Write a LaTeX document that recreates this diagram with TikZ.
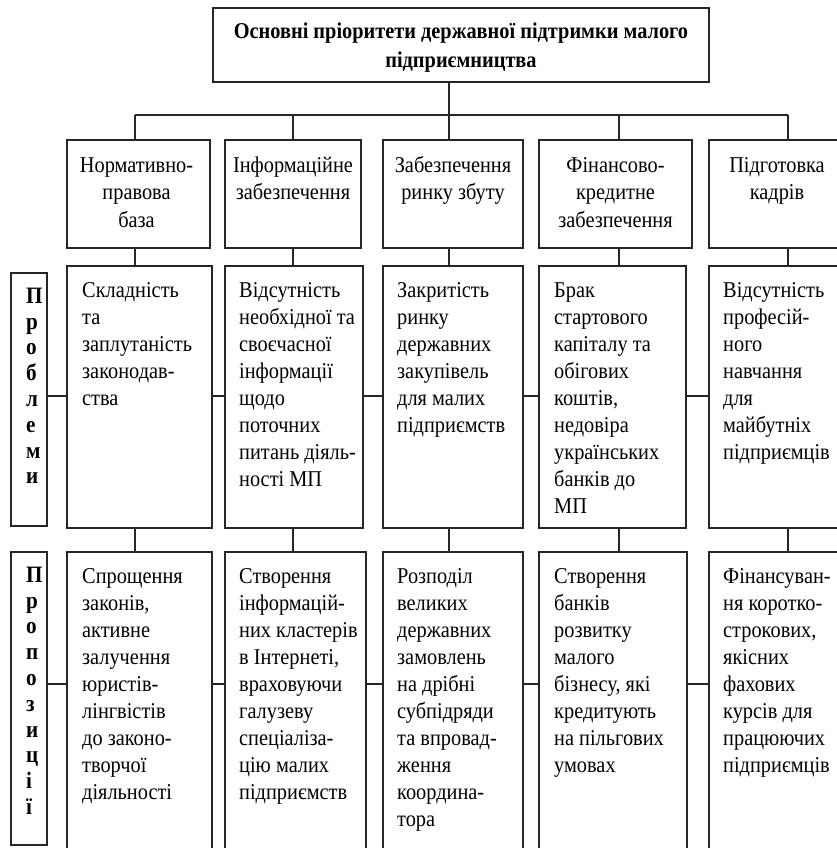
\documentclass[tikz,border=0pt]{standalone}
\usepackage{fontspec}
\setmainfont[FakeStretch=0.9]{Liberation Serif}
\usetikzlibrary{calc}
\tikzset{
  box/.style={draw=black!85, line width=1.1pt, anchor=north west, inner sep=0pt, outer sep=0pt},
  link/.style={draw=black!85, line width=1.1pt},
  txt/.style={anchor=north west, inner sep=0pt, align=left, font=\fontsize{22.6}{27}\selectfont},
  ctxt/.style={anchor=north, inner sep=0pt, align=center, font=\fontsize{22.6}{27.5}\selectfont},
  ttxt/.style={anchor=north, inner sep=0pt, align=center, font=\bfseries\fontsize{22.6}{29}\selectfont},
  vlab/.style={anchor=north west, inner sep=0pt, align=left, font=\bfseries\fontsize{23.5}{25.8}\selectfont},
}
\begin{document}
\begin{tikzpicture}[x=1pt,y=-1pt]
\useasboundingbox (0,0) rectangle (837,848);
\clip (0,0) rectangle (837,848);
% title
\node[box, minimum width=496, minimum height=74] (title) at (213,8) {};
\node[ttxt] (titletxt) at ($(title.north)+(0,10)$) {\strut Основні пріоритети державної підтримки малого\\підприємництва};
% drop coordinates
\coordinate (d1) at (135,115);
\coordinate (d2) at (293,115);
\coordinate (d3) at (449,115);
\coordinate (d4) at (619,115);
\coordinate (d5) at (788,115);
\coordinate (hm) at (0,396);
\coordinate (hb) at (0,684);
% top row
\node[box, minimum width=143, minimum height=108] (t1) at (67,140) {};
\node[box, minimum width=136, minimum height=108] (t2) at (225,140) {};
\node[box, minimum width=140, minimum height=108] (t3) at (383,140) {};
\node[box, minimum width=153, minimum height=108] (t4) at (539,140) {};
\node[box, minimum width=156, minimum height=108] (t5) at (709,140) {};
\node[ctxt] (tt1) at ($(t1.north)+(-2,13)$) {\strut Нормативно-\\правова\\база};
\node[ctxt] (tt2) at ($(t2.north)+(0,13)$) {\strut Інформаційне\\забезпечення};
\node[ctxt] (tt3) at ($(t3.north)+(0,13)$) {\strut Забезпечення\\ринку збуту};
\node[ctxt] (tt4) at ($(t4.north)+(0,13)$) {\strut Фінансово-\\кредитне\\забезпечення};
\node[ctxt] (tt5) at ($(t5.north)+(-10,13)$) {\strut Підготовка\\кадрів};
% middle row
\node[box, minimum width=36, minimum height=253] (lp) at (11,273) {};
\node[box, minimum width=145, minimum height=262] (m1) at (67,266) {};
\node[box, minimum width=138, minimum height=262] (m2) at (225,266) {};
\node[box, minimum width=140, minimum height=262] (m3) at (383,266) {};
\node[box, minimum width=147, minimum height=262] (m4) at (539,266) {};
\node[box, minimum width=156, minimum height=262] (m5) at (709,266) {};
\node[vlab] (lpt) at ($(lp.north west)+(15,12)$) {\strut П\\р\\о\\б\\л\\е\\м\\и};
\node[txt] (mt1) at ($(m1.north west)+(15,12)$) {\strut Складність\\та\\заплутаність\\законодав-\\ства};
\node[txt] (mt2) at ($(m2.north west)+(14,12)$) {\strut Відсутність\\необхідної та\\своєчасної\\інформації\\щодо\\поточних\\питань діяль-\\ності МП};
\node[txt] (mt3) at ($(m3.north west)+(14,12)$) {\strut Закритість\\ринку\\державних\\закупівель\\для малих\\підприємств};
\node[txt] (mt4) at ($(m4.north west)+(15,12)$) {\strut Брак\\стартового\\капіталу та\\обігових\\коштів,\\недовіра\\українських\\банків до\\МП};
\node[txt] (mt5) at ($(m5.north west)+(14,12)$) {\strut Відсутність\\професій-\\ного\\навчання\\для\\майбутніх\\підприємців};
% bottom row
\node[box, minimum width=36, minimum height=293] (lq) at (11,552) {};
\node[box, minimum width=145, minimum height=320] (b1) at (67,552) {};
\node[box, minimum width=141, minimum height=320] (b2) at (225,552) {};
\node[box, minimum width=140, minimum height=320] (b3) at (383,552) {};
\node[box, minimum width=148, minimum height=320] (b4) at (539,552) {};
\node[box, minimum width=156, minimum height=320] (b5) at (709,552) {};
\node[vlab] (lqt) at ($(lq.north west)+(15,12)$) {\strut П\\р\\о\\п\\о\\з\\и\\ц\\і\\ї};
\node[txt] (bt1) at ($(b1.north west)+(15,12)$) {\strut Спрощення\\законів,\\активне\\залучення\\юристів-\\лінгвістів\\до законо-\\творчої\\діяльності};
\node[txt] (bt2) at ($(b2.north west)+(14,12)$) {\strut Створення\\інформацій-\\них кластерів\\в Інтернеті,\\враховуючи\\галузеву\\спеціаліза-\\цію малих\\підприємств};
\node[txt] (bt3) at ($(b3.north west)+(14,12)$) {\strut Розподіл\\великих\\державних\\замовлень\\на дрібні\\субпідряди\\та впровад-\\ження\\координа-\\тора};
\node[txt] (bt4) at ($(b4.north west)+(15,12)$) {\strut Створення\\банків\\розвитку\\малого\\бізнесу, які\\кредитують\\на пільгових\\умовах};
\node[txt] (bt5) at ($(b5.north west)+(14,12)$) {\strut Фінансуван-\\ня коротко-\\строкових,\\якісних\\фахових\\курсів для\\працюючих\\підприємців};
% connectors
\draw[link] (title.south -| d3) -- (t3.north -| d3);
\draw[link] (d1) -- (d5);
\foreach \i in {1,2,4,5} {\draw[link] (d\i) -- (t\i.north -| d\i);}
\foreach \i in {1,...,5} {
  \draw[link] (t\i.south -| d\i) -- (m\i.north -| d\i);
  \draw[link] (m\i.south -| d\i) -- (b\i.north -| d\i);
}
\draw[link] (lp.east |- hm) -- (m1.west |- hm);
\draw[link] (m1.east |- hm) -- (m2.west |- hm);
\draw[link] (m2.east |- hm) -- (m3.west |- hm);
\draw[link] (m3.east |- hm) -- (m4.west |- hm);
\draw[link] (m4.east |- hm) -- (m5.west |- hm);
\draw[link] (lq.east |- hb) -- (b1.west |- hb);
\draw[link] (b1.east |- hb) -- (b2.west |- hb);
\draw[link] (b2.east |- hb) -- (b3.west |- hb);
\draw[link] (b3.east |- hb) -- (b4.west |- hb);
\draw[link] (b4.east |- hb) -- (b5.west |- hb);
\end{tikzpicture}
\end{document}
